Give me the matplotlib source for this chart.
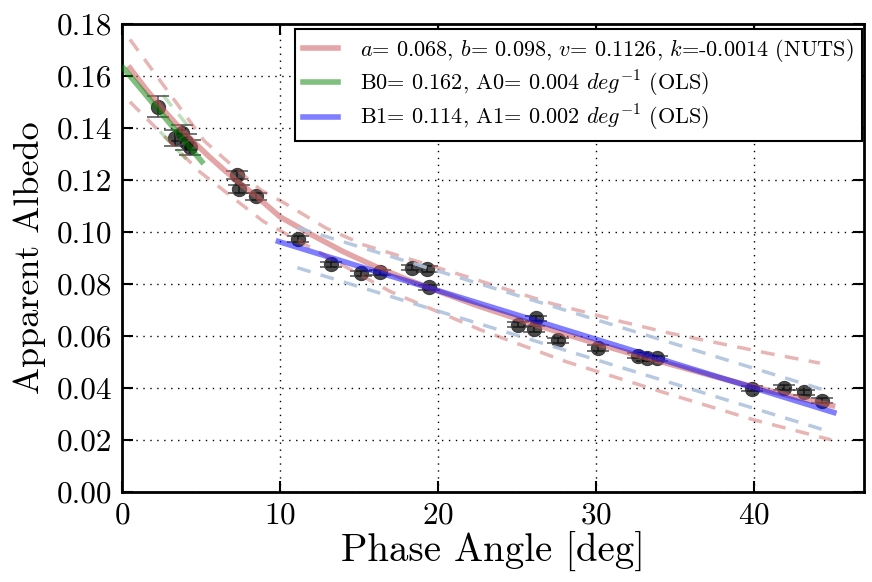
import matplotlib
matplotlib.use("Agg")
import matplotlib.pyplot as plt
import numpy as np
from matplotlib.ticker import FormatStrFormatter

plt.rcParams['font.family'] = 'serif'
plt.rcParams['font.serif'] = ['cmr10']
plt.rcParams['mathtext.fontset'] = 'cm'
plt.rcParams['axes.unicode_minus'] = False
plt.rcParams['axes.formatter.use_mathtext'] = True

# observations
phase = [2.26, 3.36, 3.80, 4.06, 4.30, 7.27, 7.41, 8.49, 11.13, 13.24, 15.15, 16.35,
         18.38, 19.31, 19.43, 25.05, 26.10, 26.20, 27.59, 30.15, 32.66, 33.25, 33.88,
         39.88, 41.90, 43.18, 44.34]
albedo = [0.1482, 0.1362, 0.1380, 0.1345, 0.1325, 0.1218, 0.1165, 0.1136, 0.0972, 0.0875,
          0.0841, 0.0845, 0.0862, 0.0857, 0.0786, 0.0643, 0.0626, 0.0667, 0.0582, 0.0553,
          0.0523, 0.0513, 0.0513, 0.0396, 0.0401, 0.0382, 0.0350]
albedo_err = [0.0040, 0.0030, 0.0030, 0.0030, 0.0030, 0.0015, 0.0015, 0.0015, 0.0012, 0.0010,
              0.0010, 0.0010, 0.0010, 0.0010, 0.0010, 0.0010, 0.0010, 0.0010, 0.0010, 0.0010,
              0.0010, 0.0010, 0.0010, 0.0010, 0.0010, 0.0010, 0.0010]

# NUTS fit curve and its bounds
nuts_x = [0.5, 1.5, 2.5, 3.5, 4.5, 5.5, 6.5, 7.5, 8.5, 10.0, 12.0, 14.0, 16.0, 18.0,
          20.0, 22.5, 25.0, 27.5, 30.0, 32.5, 35.0, 37.5, 40.0, 42.5, 45.0]
nuts_y = [0.1630, 0.1550, 0.1477, 0.1410, 0.1348, 0.1290, 0.1236, 0.1185, 0.1137, 0.1058,
          0.0989, 0.0924, 0.0868, 0.0818, 0.0772, 0.0716, 0.0666, 0.0617, 0.0571, 0.0527,
          0.0486, 0.0444, 0.0404, 0.0366, 0.0331]
nuts_up_x = [0.5, 5.2, 6.5, 8.8, 10.3, 12.9, 15.3, 21.8, 27.1, 31.6, 34.7, 40.9, 44.2]
nuts_up_y = [0.174, 0.135, 0.128, 0.116, 0.111, 0.1015, 0.095, 0.0828, 0.0726, 0.0655,
             0.061, 0.0533, 0.0495]
nuts_lo_x = [0.5, 4.94, 8.95, 17.0, 22.7, 28.1, 34.1, 40.0, 44.9]
nuts_lo_y = [0.150, 0.123, 0.104, 0.077, 0.0623, 0.0501, 0.0386, 0.0277, 0.020]

# OLS fits
ols0_x = [0.08, 5.05]
ols0_y = [0.163, 0.127]
ols0_up_x = [2.6, 4.2]
ols0_up_y = [0.1525, 0.1405]
ols0_lo_x = [2.4, 4.2]
ols0_lo_y = [0.1386, 0.127]

ols1_x = [9.9, 45.08]
ols1_y = [0.0963, 0.0305]
ols1_up_x = [11.1, 44.45]
ols1_up_y = [0.1016, 0.0392]
ols1_lo_x = [11.1, 44.45]
ols1_lo_y = [0.0862, 0.0238]

labels = [r"$a$= 0.068, $b$= 0.098, $v$= 0.1126, $k$=-0.0014 (NUTS)",
          r"B0= 0.162, A0= 0.004 $deg^{-1}$ (OLS)",
          r"B1= 0.114, A1= 0.002 $deg^{-1}$ (OLS)"]

fig = plt.figure(figsize=(8.72, 5.82), dpi=100)
ax = fig.add_axes([0.140, 0.155, 0.851, 0.804])

ax.errorbar(phase, albedo, yerr=albedo_err, fmt='o', color='black', ms=10,
            mfc=(0, 0, 0, 0.7), mec=(0.25, 0.25, 0.25), ecolor=(0.2, 0.2, 0.2, 0.8),
            elinewidth=1.2, capsize=8, capthick=1.2, zorder=3)

red = 'indianred'
l1, = ax.plot(nuts_x, nuts_y, color=red, alpha=0.55, lw=4, zorder=4)
ax.plot(nuts_up_x, nuts_up_y, color=red, alpha=0.45, lw=2.5, ls=(0, (4, 3)), zorder=4)
ax.plot(nuts_lo_x, nuts_lo_y, color=red, alpha=0.45, lw=2.5, ls=(0, (4, 3)), zorder=4)

l2, = ax.plot(ols0_x, ols0_y, color='green', alpha=0.5, lw=4, zorder=5)
ax.plot(ols0_up_x, ols0_up_y, color='green', alpha=0.25, lw=2.5, ls=(0, (4, 3)), zorder=5)
ax.plot(ols0_lo_x, ols0_lo_y, color='green', alpha=0.25, lw=2.5, ls=(0, (4, 3)), zorder=5)

l3, = ax.plot(ols1_x, ols1_y, color='blue', alpha=0.5, lw=4, zorder=5)
ax.plot(ols1_up_x, ols1_up_y, color='lightsteelblue', alpha=0.9, lw=2.5, ls=(0, (4, 3)), zorder=5)
ax.plot(ols1_lo_x, ols1_lo_y, color='lightsteelblue', alpha=0.9, lw=2.5, ls=(0, (4, 3)), zorder=5)

ax.set_xlim(0, 47)
ax.set_ylim(0, 0.18)
ax.set_xticks([0, 10, 20, 30, 40])
ax.set_yticks(np.arange(0, 0.181, 0.02))
ax.yaxis.set_major_formatter(FormatStrFormatter('%.2f'))
ax.tick_params(direction='in', length=8, width=1.5, top=True, right=True,
               labelsize=22.5, pad=7)
for s in ax.spines.values():
    s.set_linewidth(2)
ax.grid(True, color='black', ls=(0, (1, 4)), lw=1)
ax.set_axisbelow(True)

ax.set_xlabel("Phase Angle [deg]", fontsize=28, labelpad=2)
ax.set_ylabel("Apparent Albedo", fontsize=26, labelpad=8)

leg = ax.legend([l1, l2, l3], labels, loc='upper right', fontsize=16,
                bbox_to_anchor=(0.997, 0.988), borderaxespad=0,
                fancybox=False, framealpha=1, edgecolor='black',
                handlelength=1.6, handletextpad=1.0, labelspacing=0.2,
                borderpad=0.35)
leg.get_frame().set_linewidth(1.5)
for h in leg.get_lines():
    h.set_linewidth(4)

fig.savefig("out.png", dpi=100)
